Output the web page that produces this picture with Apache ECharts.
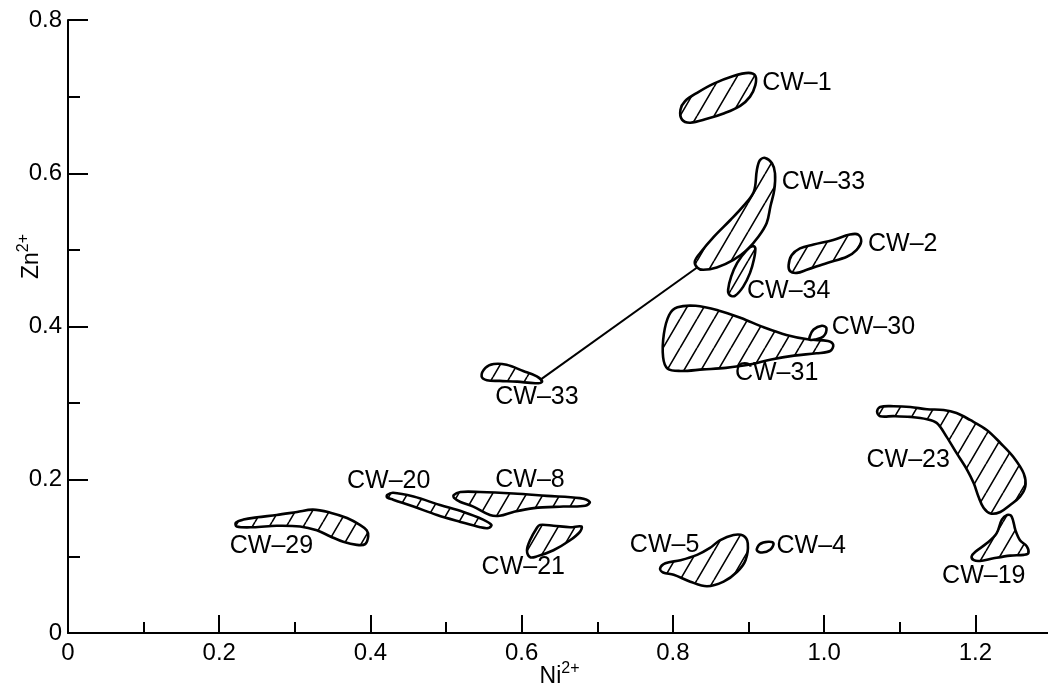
<!DOCTYPE html>
<html>
<head>
<meta charset="utf-8">
<script src="https://cdn.jsdelivr.net/npm/echarts@6.0.0/dist/echarts.min.js"></script>
<style>
  html, body { margin: 0; background: #fff; }
  #chart { width: 1048px; height: 692px; }
</style>
</head>
<body>
<div id="chart"></div>
<script>
// outline of every field, [Ni2+, Zn2+]
const cw1 = [[0.810, 0.683], [0.816, 0.694], [0.832, 0.705], [0.854, 0.717], [0.880, 0.727], [0.900, 0.731], [0.909, 0.727], [0.909, 0.715], [0.902, 0.700], [0.889, 0.688], [0.867, 0.678], [0.845, 0.671], [0.823, 0.666], [0.812, 0.670]]
const cw33a = [[0.829, 0.485], [0.836, 0.496], [0.854, 0.517], [0.876, 0.539], [0.893, 0.557], [0.907, 0.576], [0.911, 0.604], [0.915, 0.617], [0.922, 0.620], [0.931, 0.613], [0.935, 0.600], [0.934, 0.578], [0.929, 0.557], [0.924, 0.535], [0.913, 0.517], [0.898, 0.500], [0.880, 0.487], [0.858, 0.477], [0.840, 0.474], [0.832, 0.477]]
const cw34 = [[0.873, 0.448], [0.877, 0.465], [0.885, 0.483], [0.898, 0.500], [0.906, 0.505], [0.909, 0.502], [0.907, 0.487], [0.902, 0.470], [0.893, 0.452], [0.882, 0.440], [0.875, 0.441]]
const cw2 = [[0.953, 0.480], [0.957, 0.493], [0.968, 0.502], [0.986, 0.507], [1.012, 0.513], [1.034, 0.520], [1.045, 0.520], [1.049, 0.511], [1.043, 0.500], [1.030, 0.491], [1.004, 0.483], [0.977, 0.474], [0.964, 0.470], [0.955, 0.472]]
const cw31 = [[0.795, 0.415], [0.806, 0.425], [0.830, 0.427], [0.860, 0.421], [0.890, 0.411], [0.920, 0.399], [0.950, 0.389], [0.980, 0.383], [1.005, 0.381], [1.012, 0.376], [1.008, 0.368], [0.990, 0.365], [0.960, 0.362], [0.930, 0.357], [0.900, 0.350], [0.870, 0.346], [0.840, 0.344], [0.810, 0.342], [0.793, 0.345], [0.787, 0.360], [0.788, 0.390]]
const cw30 = [[0.981, 0.387], [0.986, 0.396], [0.997, 0.401], [1.003, 0.398], [0.999, 0.387], [0.988, 0.383], [0.981, 0.383]]
const cw33b = [[0.547, 0.335], [0.552, 0.346], [0.563, 0.351], [0.580, 0.350], [0.602, 0.342], [0.620, 0.335], [0.627, 0.328], [0.618, 0.326], [0.594, 0.328], [0.571, 0.329], [0.554, 0.330]]
const cw29 = [[0.222, 0.144], [0.232, 0.148], [0.250, 0.151], [0.276, 0.154], [0.303, 0.158], [0.324, 0.161], [0.347, 0.157], [0.369, 0.150], [0.386, 0.141], [0.395, 0.134], [0.397, 0.126], [0.393, 0.116], [0.382, 0.115], [0.364, 0.119], [0.347, 0.126], [0.329, 0.134], [0.307, 0.139], [0.276, 0.140], [0.245, 0.138], [0.223, 0.139]]
const cw20 = [[0.422, 0.180], [0.430, 0.183], [0.457, 0.178], [0.492, 0.167], [0.523, 0.158], [0.549, 0.148], [0.560, 0.141], [0.556, 0.137], [0.545, 0.138], [0.519, 0.145], [0.488, 0.154], [0.457, 0.165], [0.430, 0.174], [0.422, 0.177]]
const cw8 = [[0.510, 0.180], [0.519, 0.184], [0.545, 0.184], [0.589, 0.182], [0.633, 0.179], [0.677, 0.176], [0.690, 0.171], [0.684, 0.166], [0.655, 0.165], [0.616, 0.163], [0.589, 0.158], [0.571, 0.153], [0.558, 0.154], [0.536, 0.165], [0.519, 0.171], [0.511, 0.176]]
const cw21 = [[0.607, 0.108], [0.611, 0.121], [0.620, 0.137], [0.624, 0.141], [0.642, 0.140], [0.664, 0.138], [0.679, 0.139], [0.677, 0.132], [0.664, 0.121], [0.642, 0.108], [0.620, 0.100], [0.611, 0.099]]
const cw5 = [[0.783, 0.084], [0.790, 0.091], [0.810, 0.095], [0.832, 0.102], [0.849, 0.111], [0.862, 0.121], [0.880, 0.128], [0.893, 0.127], [0.899, 0.117], [0.896, 0.095], [0.885, 0.080], [0.867, 0.067], [0.845, 0.061], [0.823, 0.067], [0.801, 0.076], [0.787, 0.079]]
const cw4 = [[0.911, 0.108], [0.915, 0.116], [0.926, 0.119], [0.933, 0.117], [0.929, 0.109], [0.918, 0.105]]
const cw23 = [[1.070, 0.289], [1.074, 0.295], [1.092, 0.296], [1.114, 0.295], [1.136, 0.292], [1.158, 0.291], [1.175, 0.287], [1.193, 0.278], [1.215, 0.265], [1.233, 0.248], [1.250, 0.230], [1.264, 0.208], [1.266, 0.191], [1.259, 0.178], [1.246, 0.167], [1.233, 0.158], [1.220, 0.156], [1.211, 0.163], [1.204, 0.178], [1.198, 0.195], [1.189, 0.213], [1.175, 0.235], [1.162, 0.256], [1.149, 0.274], [1.136, 0.279], [1.114, 0.282], [1.092, 0.283], [1.074, 0.283]]
const cw19 = [[1.195, 0.100], [1.200, 0.106], [1.215, 0.117], [1.228, 0.130], [1.235, 0.148], [1.242, 0.154], [1.248, 0.152], [1.253, 0.134], [1.259, 0.121], [1.268, 0.113], [1.270, 0.104], [1.264, 0.102], [1.246, 0.101], [1.224, 0.0975], [1.206, 0.094], [1.198, 0.095]]

const fields = [cw1, cw33a, cw34, cw2, cw31, cw30, cw33b, cw29, cw20, cw8, cw21, cw5, cw4, cw23, cw19]
const hatched = [true, true, true, true, true, false, true, true, true, true, true, true, false, true, true]

// tie line between the two CW-33 fields
const tieLine = [[0.624, 0.330], [0.832, 0.477]]

// labels: text, left edge, middle
const labelText = ['CW–1', 'CW–33', 'CW–2', 'CW–34', 'CW–30', 'CW–31', 'CW–33', 'CW–23', 'CW–20', 'CW–8', 'CW–29', 'CW–21', 'CW–5', 'CW–4', 'CW–19']
const labelX = [0.918, 0.944, 1.058, 0.898, 1.010, 0.882, 0.565, 1.056, 0.369, 0.565, 0.214, 0.547, 0.743, 0.937, 1.156]
const labelY = [0.717, 0.589, 0.507, 0.446, 0.399, 0.339, 0.308, 0.225, 0.198, 0.200, 0.114, 0.086, 0.115, 0.114, 0.074]

const font = '"Liberation Sans", Arial, sans-serif'

// diagonal hatch tile
const makeHatch = () => {
  const w = 17
  const h = 29
  const c = document.createElement('canvas')
  c.width = w
  c.height = h
  const ctx = c.getContext('2d')
  ctx.strokeStyle = '#000'
  ctx.lineWidth = 1.6
  ctx.beginPath()
  for (let k = -1; k <= 1; k++) {
    ctx.moveTo(k * w, h)
    ctx.lineTo(k * w + w, 0)
  }
  ctx.stroke()
  return c
}
const hatch = { image: makeHatch(), repeat: 'repeat' }

const myChart = echarts.init(document.getElementById('chart'))

const axisText = { color: '#000', fontFamily: font, fontSize: 24 }
const supRich = {
  a: { fontFamily: font, fontSize: 23, color: '#000' },
  b: { fontFamily: font, fontSize: 16, color: '#000', padding: [0, 0, 16, 0] },
}

const option = {
  animation: false,
  grid: { left: 68, right: -3, top: 20, bottom: 59, outerBoundsMode: 'none' },
  xAxis: [
    {
      type: 'value',
      min: 0,
      max: 1.3,
      interval: 0.2,
      name: '{a|Ni}{b|2+}',
      nameLocation: 'middle',
      nameGap: 28,
      nameMoveOverlap: false,
      nameTextStyle: { fontFamily: font, fontSize: 23, color: '#000', rich: supRich },
      axisLine: { lineStyle: { color: '#000', width: 2 } },
      axisTick: { inside: true, length: 18, lineStyle: { color: '#000', width: 2 } },
      axisLabel: {
        ...axisText,
        margin: 8,
        showMaxLabel: false,
        formatter: (v) => (v === 0 ? '0' : v.toFixed(1)),
      },
      splitLine: { show: false },
    },
    {
      type: 'value',
      min: 0,
      max: 1.3,
      interval: 0.1,
      position: 'bottom',
      axisLine: { show: false },
      axisTick: { inside: true, length: 11, lineStyle: { color: '#000', width: 2 } },
      axisLabel: { show: false },
      splitLine: { show: false },
    },
  ],
  yAxis: {
    type: 'value',
    min: 0,
    max: 0.8,
    interval: 0.2,
    name: '{a|Zn}{b|2+}',
    nameLocation: 'middle',
    nameGap: 20,
    nameMoveOverlap: false,
    nameTextStyle: {
      fontFamily: font,
      fontSize: 23,
      color: '#000',
      padding: [0, 0, 0, 140],
      rich: supRich,
    },
    axisLine: { lineStyle: { color: '#000', width: 2 } },
    axisTick: { inside: true, length: 20, lineStyle: { color: '#000', width: 2 } },
    minorTick: { show: true, splitNumber: 2, length: 12, lineStyle: { color: '#000', width: 2 } },
    axisLabel: {
      ...axisText,
      margin: 6,
      formatter: (v) => (v === 0 ? '0' : v.toFixed(1)),
    },
    splitLine: { show: false },
  },
  series: [
    {
      type: 'line',
      data: tieLine,
      symbol: 'none',
      lineStyle: { color: '#000', width: 2 },
      z: 1,
    },
    {
      type: 'custom',
      data: fields.map((f) => f[0]),
      z: 2,
      renderItem: (params, api) => {
        const pts = fields[params.dataIndex].map((p) => api.coord(p))
        return {
          type: 'polygon',
          shape: { points: pts, smooth: 0.35 },
          style: {
            fill: hatched[params.dataIndex] ? hatch : '#fff',
            stroke: '#000',
            lineWidth: 2.6,
          },
        }
      },
    },
    {
      type: 'custom',
      data: labelX.map((x, i) => [x, labelY[i]]),
      z: 3,
      renderItem: (params, api) => {
        const c = api.coord([labelX[params.dataIndex], labelY[params.dataIndex]])
        return {
          type: 'text',
          style: {
            text: labelText[params.dataIndex],
            x: c[0],
            y: c[1],
            align: 'left',
            verticalAlign: 'middle',
            font: '25px ' + font,
            fill: '#000',
          },
        }
      },
    },
  ],
}

myChart.setOption(option)
</script>
</body>
</html>
